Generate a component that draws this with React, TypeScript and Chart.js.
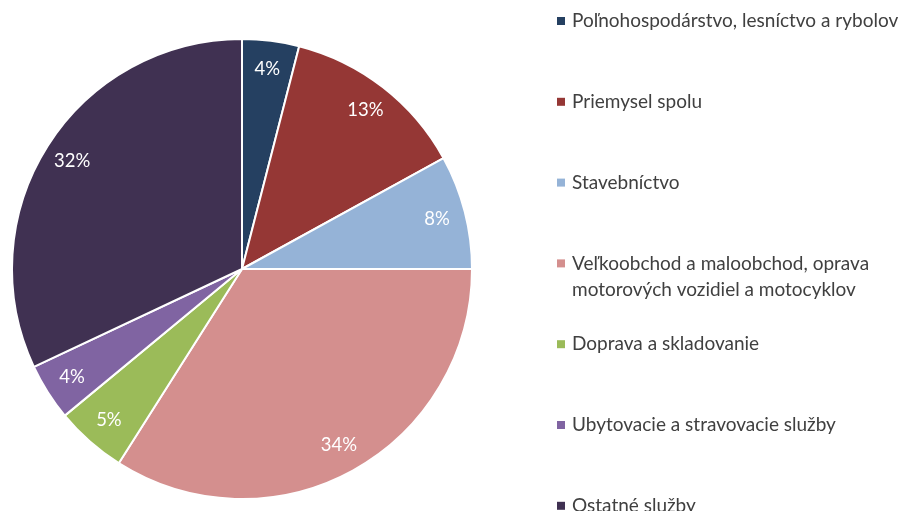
import React, { useEffect, useRef } from "react";
import { Chart, registerables } from "chart.js";

Chart.register(...registerables);

const categories: string[][] = [
  ["Poľnohospodárstvo, lesníctvo a rybolov"],
  ["Priemysel spolu"],
  ["Stavebníctvo"],
  ["Veľkoobchod a maloobchod, oprava", "motorových vozidiel a motocyklov"],
  ["Doprava a skladovanie"],
  ["Ubytovacie a stravovacie služby"],
  ["Ostatné služby"],
];
const values: number[] = [4, 13, 8, 34, 5, 4, 32];
const valueLabels: string[] = ["4%", "13%", "8%", "34%", "5%", "4%", "32%"];
const colors: string[] = ["#254061", "#953735", "#95B3D7", "#D48F8E", "#9BBB59", "#8064A2", "#403152"];

const FONT = "Lato, 'Open Sans', sans-serif";

const labelPlugin = {
  id: "sliceLabels",
  afterDatasetsDraw(chart: any) {
    const ctx = chart.ctx;
    const meta = chart.getDatasetMeta(0);
    ctx.save();
    ctx.fillStyle = "#ffffff";
    ctx.font = `18.5px ${FONT}`;
    ctx.textAlign = "center";
    ctx.textBaseline = "middle";
    meta.data.forEach((arc: any, i: number) => {
      const p = arc.getProps(["x", "y", "startAngle", "endAngle", "outerRadius"], true);
      const mid = (p.startAngle + p.endAngle) / 2;
      const r = p.outerRadius * 0.875;
      ctx.fillText(valueLabels[i], p.x + Math.cos(mid) * r, p.y + Math.sin(mid) * r);
    });
    ctx.restore();
  },
};

const legendPlugin = {
  id: "customLegend",
  afterDraw(chart: any) {
    const ctx = chart.ctx;
    ctx.save();
    ctx.font = `19px ${FONT}`;
    ctx.textBaseline = "middle";
    ctx.textAlign = "left";
    const x0 = 557;
    const y0 = 21;
    const step = 80.8;
    categories.forEach((lines, i) => {
      const y = y0 + i * step;
      ctx.fillStyle = colors[i];
      ctx.fillRect(x0, y - 4, 8, 8);
      ctx.fillStyle = "#404040";
      lines.forEach((t, j) => ctx.fillText(t, x0 + 15, y + j * 26));
    });
    ctx.restore();
  },
};

export default function App() {
  const ref = useRef<HTMLCanvasElement | null>(null);
  useEffect(() => {
    document.body.style.margin = "0";
    if (!ref.current) return;
    const chart = new Chart(ref.current, {
      type: "pie",
      data: {
        labels: categories.map((l) => l.join(" ")),
        datasets: [
          {
            data: values,
            backgroundColor: colors,
            borderColor: "#ffffff",
            borderWidth: 2,
          },
        ],
      },
      options: {
        animation: false,
        responsive: false,
        layout: { padding: { left: 11, top: 38, right: 431, bottom: 11 } },
        plugins: {
          legend: { display: false },
          tooltip: { enabled: false },
        },
      },
      plugins: [labelPlugin, legendPlugin],
    });
    return () => chart.destroy();
  }, []);
  return (
    <div style={{ width: 904, height: 511 }}>
      <canvas ref={ref} width={904} height={511} style={{ display: "block" }} />
    </div>
  );
}
